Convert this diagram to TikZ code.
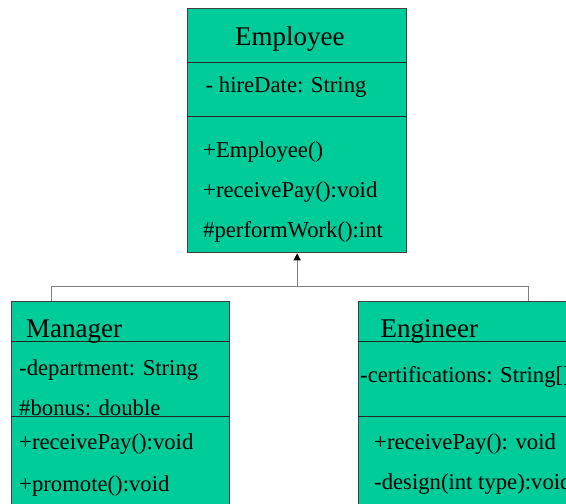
\documentclass[tikz,border=0pt]{standalone}
\usepackage{fontspec}
\setmainfont{Liberation Serif}
\usetikzlibrary{arrows.meta}
\definecolor{clsgreen}{RGB}{0,204,153}
\definecolor{clsborder}{RGB}{64,64,64}
\definecolor{conngray}{RGB}{128,128,128}
\tikzset{
  clsbox/.style={draw=clsborder, fill=clsgreen, line width=1pt, inner sep=0pt, anchor=north west},
  divline/.style={draw=black!85, line width=0.9pt},
  clsname/.style={anchor=base west, inner sep=0pt, font=\fontsize{27}{32}\selectfont},
  member/.style={anchor=base west, inner sep=0pt, font=\fontsize{22.7}{27}\selectfont},
  conn/.style={draw=conngray, line width=1.3pt},
}
\begin{document}
\begin{tikzpicture}[x=1pt,y=-1pt]
\useasboundingbox (0,0) rectangle (566,504);
\clip (0,0) rectangle (566,504);

% class boxes
\node[clsbox, minimum width=218.7pt, minimum height=244pt] (emp) at (187.3,8.3) {};
\node[clsbox, minimum width=217.7pt, minimum height=230pt] (mgr) at (11,300.7) {};
\node[clsbox, minimum width=240pt, minimum height=230pt] (eng) at (357.7,300.7) {};

% compartment separators
\draw[divline] (emp.west |- 0,62) -- (emp.east |- 0,62);
\draw[divline] (emp.west |- 0,116.7) -- (emp.east |- 0,116.7);
\draw[divline] (mgr.west |- 0,341) -- (mgr.east |- 0,341);
\draw[divline] (mgr.west |- 0,416) -- (mgr.east |- 0,416);
\draw[divline] (eng.west |- 0,341) -- (eng.east |- 0,341);
\draw[divline] (eng.west |- 0,416) -- (eng.east |- 0,416);

% Employee
\node[clsname] (empname) at (235,45) {Employee};
\node[member] (empa1) at (205.5,92) {- hireDate: String};
\node[member] (empm1) at (203,157) {+Employee()};
\node[member] (empm2) at (203,197) {+receivePay():void};
\node[member] (empm3) at (203,237.5) {\#performWork():int};

% Manager
\node[clsname] (mgrname) at (26,337) {Manager};
\node[member] (mgra1) at (19,375) {-department: String};
\node[member] (mgra2) at (19,415.5) {\#bonus: double};
\node[member] (mgrm1) at (19,449) {+receivePay():void};
\node[member] (mgrm2) at (19,491) {+promote():void};

% Engineer
\node[clsname] (engname) at (380.5,337) {Engineer};
\node[member] (enga1) at (360,382) {-certifications: String[]};
\node[member] (engm1) at (374,449) {+receivePay(): void};
\node[member] (engm2) at (374,489.5) {-design(int type):void};

% generalization connector
\coordinate (junc) at (emp.south |- 0,286.7);
\coordinate (mgrjoin) at (51.7,300.7);
\coordinate (engjoin) at (528.3,300.7);
\draw[conn] (mgrjoin) -- (mgrjoin |- junc) -- (engjoin |- junc) -- (engjoin);
\draw[conn, -{Triangle[width=7pt,length=7pt,black]}] (junc) -- (emp.south);
\end{tikzpicture}
\end{document}
